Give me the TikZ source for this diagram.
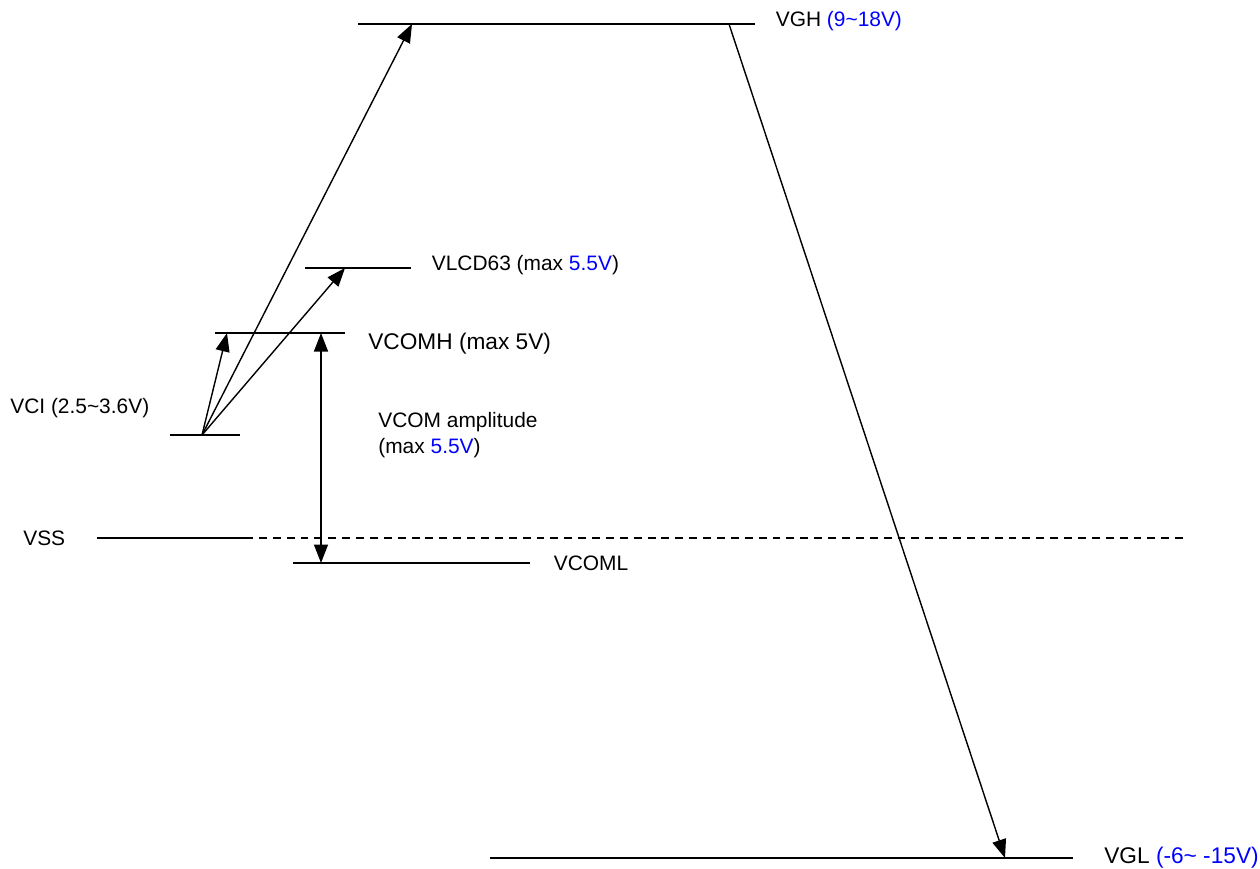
\documentclass[tikz,border=0pt]{standalone}
\usepackage{fontspec}
\setmainfont{Liberation Sans}
\usetikzlibrary{positioning,arrows.meta}

\begin{document}
\begin{tikzpicture}[
  x=0.2mm, y=-0.2mm,
  font=\fontsize{11.9}{14.7}\selectfont,
  lvl/.style={line width=1.1pt},
  arr/.style={-{Triangle[length=3.7mm, width=2.8mm]}, line width=0.8pt},
  darr/.style={{Triangle[length=3.7mm, width=2.8mm]}-{Triangle[length=3.7mm, width=2.8mm]}, line width=0.8pt},
  lbl/.style={inner sep=0pt, anchor=west},
  big/.style={font=\fontsize{12.9}{15}\selectfont},
  node distance=4mm]
\useasboundingbox (0,0) rectangle (1260,868);
% levels
\coordinate (vghL) at (358,24);
\coordinate (vghR) at (755,24);
\coordinate (vlcdL) at (305,268);
\coordinate (vlcdR) at (411,268);
\coordinate (vcomhL) at (215,333);
\coordinate (vcomhR) at (345,333);
\coordinate (vciL) at (170,435);
\coordinate (vciR) at (240,435);
\coordinate (vssL) at (97,538);
\coordinate (vssM) at (245,538);
\coordinate (vssR) at (1185,538);
\coordinate (vcomlL) at (293,563);
\coordinate (vcomlR) at (530,563);
\coordinate (vglL) at (490,858);
\coordinate (vglR) at (1073,858);
\draw[lvl] (vghL) -- (vghR);
\draw[lvl] (vlcdL) -- (vlcdR);
\draw[lvl] (vcomhL) -- (vcomhR);
\draw[lvl] (vciL) -- (vciR);
\draw[lvl] (vssL) -- (vssM);
\draw[lvl, dash pattern=on 4.5pt off 3.4pt] (vssM) -- (vssR);
\draw[lvl] (vcomlL) -- (vcomlR);
\draw[lvl] (vglL) -- (vglR);
% labels
\node[lbl, right=4.1mm of vghR, yshift=0.6mm] (vgh) {VGH {\color{blue}(9\textasciitilde18V)}};
\node[lbl, right=4.1mm of vlcdR, yshift=0.6mm] (vlcd) {VLCD63 (max {\color{blue}5.5V})};
\node[lbl, big] (vcomh) at (368,344) {VCOMH (max 5V)};
\node[lbl] (vci) at (10,408) {VCI (2.5\textasciitilde3.6V)};
\node[lbl, align=left] (amp) at (378,435) {VCOM amplitude\\(max {\color{blue}5.5V})};
\node[lbl] (vss) at (23,538) {VSS};
\node[lbl, right=4.7mm of vcomlR] (vcoml) {VCOML};
\node[lbl, big, right=6.2mm of vglR] (vgl) {VGL {\color{blue}(-6\textasciitilde\ -15V)}};
% arrows
\coordinate (src) at (202,435);
\coordinate (vghIn) at (412,24);
\coordinate (vghOut) at (729,24);
\coordinate (vglIn) at (1005,858);
\coordinate (vlcdIn) at (345,268);
\coordinate (vcomhIn) at (227,333);
\coordinate (ampTop) at (321,333);
\coordinate (ampBot) at (321,563);
\draw[arr] (src) -- (vghIn);
\draw[arr] (src) -- (vlcdIn);
\draw[arr] (src) -- (vcomhIn);
\draw[darr] (ampTop) -- (ampBot);
\draw[arr] (vghOut) -- (vglIn);
\end{tikzpicture}
\end{document}
